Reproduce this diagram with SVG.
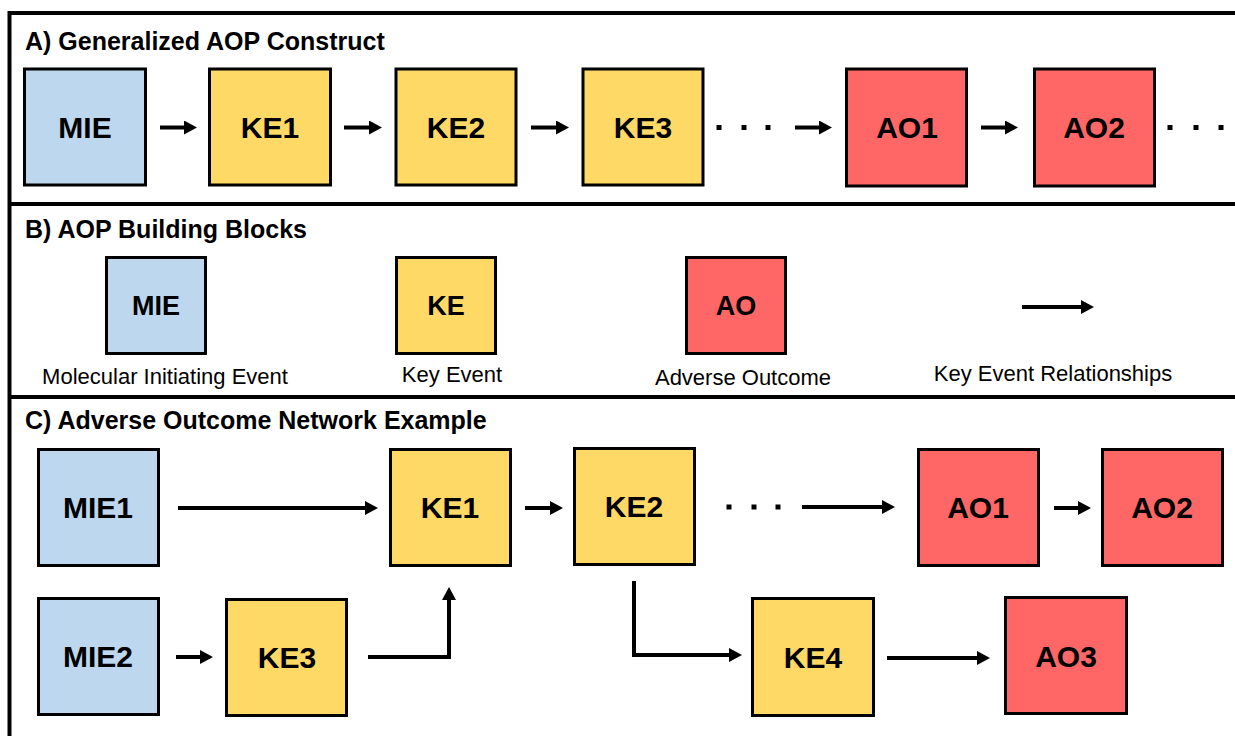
<svg xmlns="http://www.w3.org/2000/svg" width="1235" height="736" viewBox="0 0 1235 736">
  <style>
    .frame { fill: none; stroke: #000; stroke-width: 4; }
    .box { stroke: #000; stroke-width: 3; }
    .mie { fill: #BDD7EE; }
    .ke { fill: #FFD966; }
    .ao { fill: #FF6666; }
    .lbl { font-family: "Liberation Sans", Arial, Helvetica, sans-serif; font-weight: bold; font-size: 30px; fill: #000; text-anchor: middle; }
    .lbl-s { font-family: "Liberation Sans", Arial, Helvetica, sans-serif; font-weight: bold; font-size: 27px; fill: #000; text-anchor: middle; }
    .title { font-family: "Liberation Sans", Arial, Helvetica, sans-serif; font-weight: bold; font-size: 25px; fill: #000; }
    .cap { font-family: "Liberation Sans", Arial, Helvetica, sans-serif; font-size: 22px; fill: #000; text-anchor: middle; }
    .edge { fill: none; stroke: #000; stroke-width: 4; stroke-linejoin: miter; marker-end: url(#head); }
    .dot { fill: #000; }
  </style>
  <defs>
    <marker id="head" viewBox="0 0 13 14" refX="3" refY="7" markerWidth="13" markerHeight="14" markerUnits="userSpaceOnUse" orient="auto">
      <path d="M0,0 L13,7 L0,14 Z" fill="#000"/>
    </marker>
  </defs>

  <rect width="1235" height="736" fill="#fff"/>

  <!-- panel frame and dividers -->
  <g id="frame">
    <path class="frame" d="M9.5,736 V13 H1235"/>
    <line class="frame" x1="9.5" y1="204" x2="1235" y2="204"/>
    <line class="frame" x1="9.5" y1="397" x2="1235" y2="397"/>
  </g>

  <!-- panel titles -->
  <text class="title" x="25" y="50">A) Generalized AOP Construct</text>
  <text class="title" x="25" y="238">B) AOP Building Blocks</text>
  <text class="title" x="25" y="429">C) Adverse Outcome Network Example</text>

  <!-- A: linear chain -->
  <g id="a-mie"><rect class="box mie" x="24.5" y="69" width="121" height="116"/><text class="lbl" x="85" y="138">MIE</text></g>
  <g id="a-ke1"><rect class="box ke" x="209.5" y="69" width="121" height="116"/><text class="lbl" x="270" y="138">KE1</text></g>
  <g id="a-ke2"><rect class="box ke" x="396" y="69" width="120" height="116"/><text class="lbl" x="456" y="138">KE2</text></g>
  <g id="a-ke3"><rect class="box ke" x="583" y="69" width="120" height="116"/><text class="lbl" x="643" y="138">KE3</text></g>
  <g id="a-ao1"><rect class="box ao" x="846.5" y="69" width="120" height="117"/><text class="lbl" x="907" y="138">AO1</text></g>
  <g id="a-ao2"><rect class="box ao" x="1034.5" y="69" width="120" height="117"/><text class="lbl" x="1094" y="138">AO2</text></g>

  <!-- B: legend blocks -->
  <g id="b-mie"><rect class="box mie" x="106.5" y="257.5" width="99" height="96"/><text class="lbl-s" x="156" y="315">MIE</text><text class="cap" x="165" y="384">Molecular Initiating Event</text></g>
  <g id="b-ke"><rect class="box ke" x="396.5" y="257.5" width="99" height="96"/><text class="lbl-s" x="446" y="315">KE</text><text class="cap" x="452" y="382">Key Event</text></g>
  <g id="b-ao"><rect class="box ao" x="686.5" y="257.5" width="99" height="96"/><text class="lbl-s" x="736" y="315">AO</text><text class="cap" x="743" y="385">Adverse Outcome</text></g>
  <g id="b-ker"><text class="cap" x="1053" y="381">Key Event Relationships</text></g>

  <!-- C: network -->
  <g id="c-mie1"><rect class="box mie" x="38.5" y="449.5" width="120" height="116"/><text class="lbl" x="98" y="518">MIE1</text></g>
  <g id="c-ke1"><rect class="box ke" x="390.5" y="449.5" width="120" height="116"/><text class="lbl" x="450" y="518">KE1</text></g>
  <g id="c-ke2"><rect class="box ke" x="574.5" y="448.5" width="120" height="116"/><text class="lbl" x="634" y="517">KE2</text></g>
  <g id="c-ao1"><rect class="box ao" x="918.5" y="449.5" width="120" height="116"/><text class="lbl" x="978" y="518">AO1</text></g>
  <g id="c-ao2"><rect class="box ao" x="1102.5" y="449.5" width="120" height="116"/><text class="lbl" x="1162" y="518">AO2</text></g>
  <g id="c-mie2"><rect class="box mie" x="38.5" y="598.5" width="120" height="116"/><text class="lbl" x="98" y="667">MIE2</text></g>
  <g id="c-ke3"><rect class="box ke" x="226.5" y="599.5" width="120" height="116"/><text class="lbl" x="287" y="668">KE3</text></g>
  <g id="c-ke4"><rect class="box ke" x="752.5" y="598.5" width="121" height="117"/><text class="lbl" x="813" y="668">KE4</text></g>
  <g id="c-ao3"><rect class="box ao" x="1005.5" y="597.5" width="121" height="116"/><text class="lbl" x="1066" y="667">AO3</text></g>

  <!-- connectors (line end + 10 = arrow tip) -->
  <g id="connectors">
    <path class="edge" d="M160,127.5 H187"/>
    <path class="edge" d="M344,127.5 H372"/>
    <path class="edge" d="M531,127.5 H559"/>
    <path class="edge" d="M795,127.5 H822"/>
    <path class="edge" d="M981,127.5 H1008"/>
    <path class="edge" d="M1022,307 H1084"/>
    <path class="edge" d="M178,508 H368"/>
    <path class="edge" d="M525,508 H553"/>
    <path class="edge" d="M802,507 H885"/>
    <path class="edge" d="M1054,508 H1081"/>
    <path class="edge" d="M176,657 H203"/>
    <path class="edge" d="M368,657 H449 V597"/>
    <path class="edge" d="M634,581 V655 H732"/>
    <path class="edge" d="M887,658 H980"/>
    <!-- continuation dots -->
    <rect class="dot" x="716.5" y="125" width="5" height="5"/>
    <rect class="dot" x="741.5" y="125" width="5" height="5"/>
    <rect class="dot" x="765.5" y="125" width="5" height="5"/>
    <rect class="dot" x="1167.5" y="125" width="5" height="5"/>
    <rect class="dot" x="1193.5" y="125" width="5" height="5"/>
    <rect class="dot" x="1218.5" y="125" width="5" height="5"/>
    <rect class="dot" x="726.5" y="504.5" width="5" height="5"/>
    <rect class="dot" x="751.5" y="504.5" width="5" height="5"/>
    <rect class="dot" x="775.5" y="504.5" width="5" height="5"/>
  </g>
</svg>
